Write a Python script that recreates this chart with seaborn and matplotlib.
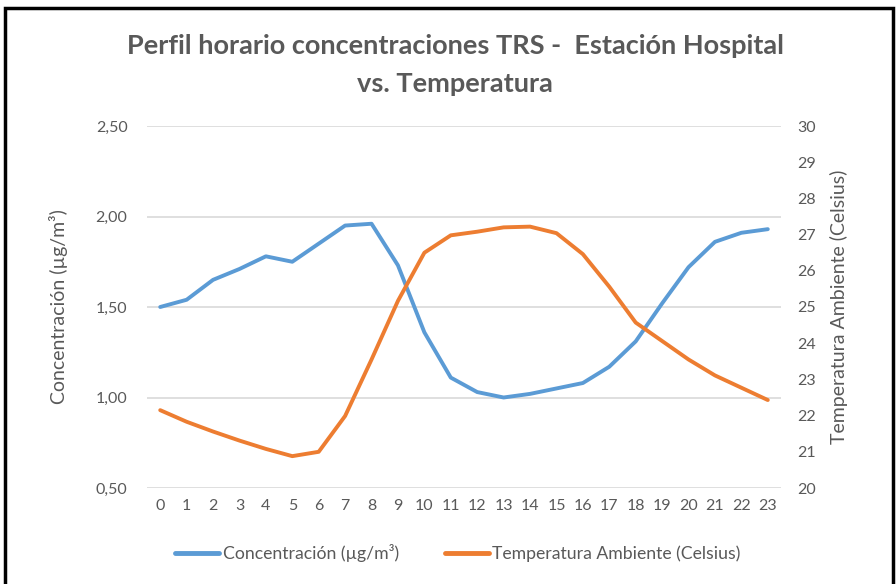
import matplotlib
matplotlib.use('Agg')
import matplotlib.pyplot as plt
import seaborn as sns
import pandas as pd
from matplotlib.patches import Rectangle
from matplotlib.lines import Line2D

# Datos horarios
horas = list(range(24))
concentracion = [1.50, 1.54, 1.65, 1.71, 1.78, 1.75, 1.85, 1.95, 1.96, 1.73, 1.36, 1.11,
                 1.03, 1.00, 1.02, 1.05, 1.08, 1.17, 1.31, 1.52, 1.72, 1.86, 1.91, 1.93]
temperatura = [22.15, 21.83, 21.56, 21.31, 21.08, 20.88, 21.00, 21.99, 23.55, 25.17, 26.50, 26.98,
               27.08, 27.20, 27.22, 27.04, 26.46, 25.56, 24.57, 24.06, 23.55, 23.11, 22.77, 22.43]

df = pd.DataFrame({"hora": horas, "conc": concentracion, "temp": temperatura})

AZUL = "#5B9BD5"
NARANJA = "#ED7D31"
GRIS = "#595959"

sns.set_style("white")
plt.rcParams['font.family'] = ['Lato', 'DejaVu Sans']

fig = plt.figure(figsize=(8.96, 5.84), dpi=100)
ax = fig.add_axes([147/896, 1 - 488/584, (781 - 147)/896, (488 - 126)/584])
ax2 = ax.twinx()

sns.lineplot(data=df, x="hora", y="conc", ax=ax, color=AZUL, linewidth=2.8)
sns.lineplot(data=df, x="hora", y="temp", ax=ax2, color=NARANJA, linewidth=2.8)

ax.set_xlim(-0.5, 23.5)
ax.set_ylim(0.5, 2.5)
ax2.set_ylim(20, 30)
ax.set_xticks(horas)
ax.set_xticklabels([str(h) for h in horas])
ax.set_yticks([0.5, 1.0, 1.5, 2.0, 2.5])
ax.set_yticklabels(["0,50", "1,00", "1,50", "2,00", "2,50"])
ax2.set_yticks(range(20, 31))

ax.grid(axis='y', color="#D9D9D9", linewidth=1.2)
ax.set_axisbelow(True)
for a in (ax, ax2):
    for s in a.spines.values():
        s.set_visible(False)
    a.tick_params(length=0, labelsize=11.5, colors=GRIS)
ax.tick_params(axis='x', pad=8)
ax.tick_params(axis='y', pad=14)
ax2.tick_params(axis='y', pad=12)

ax.set_xlabel("")
ax.set_ylabel("Concentración (µg/m³)", fontsize=14, color=GRIS, labelpad=20)
ax2.set_ylabel("Temperatura Ambiente (Celsius)", fontsize=14, color=GRIS, labelpad=10)

fig.text(0.508, 0.922, "Perfil horario concentraciones TRS -  Estación Hospital",
         ha='center', va='center', fontsize=19.5, fontweight='bold', color=GRIS)
fig.text(0.508, 0.857, "vs. Temperatura",
         ha='center', va='center', fontsize=19.5, fontweight='bold', color=GRIS)

handles = [Line2D([], [], color=AZUL, linewidth=3.5),
           Line2D([], [], color=NARANJA, linewidth=3.5)]
fig.legend(handles, ["Concentración (µg/m³)", "Temperatura Ambiente (Celsius)"],
           loc='center left', bbox_to_anchor=(175/896, 1 - 553/584), ncol=2, frameon=False,
           fontsize=12.7, labelcolor=GRIS, handlelength=2.5, handletextpad=0.2,
           columnspacing=2.6, borderpad=0, borderaxespad=0)

# marco negro del gráfico
fig.patches.append(Rectangle((5/896, -0.01), 888/896, 1 - 8/584 + 0.01, transform=fig.transFigure,
                             fill=False, edgecolor='black', linewidth=2.5))

fig.savefig("out.png", dpi=100)
